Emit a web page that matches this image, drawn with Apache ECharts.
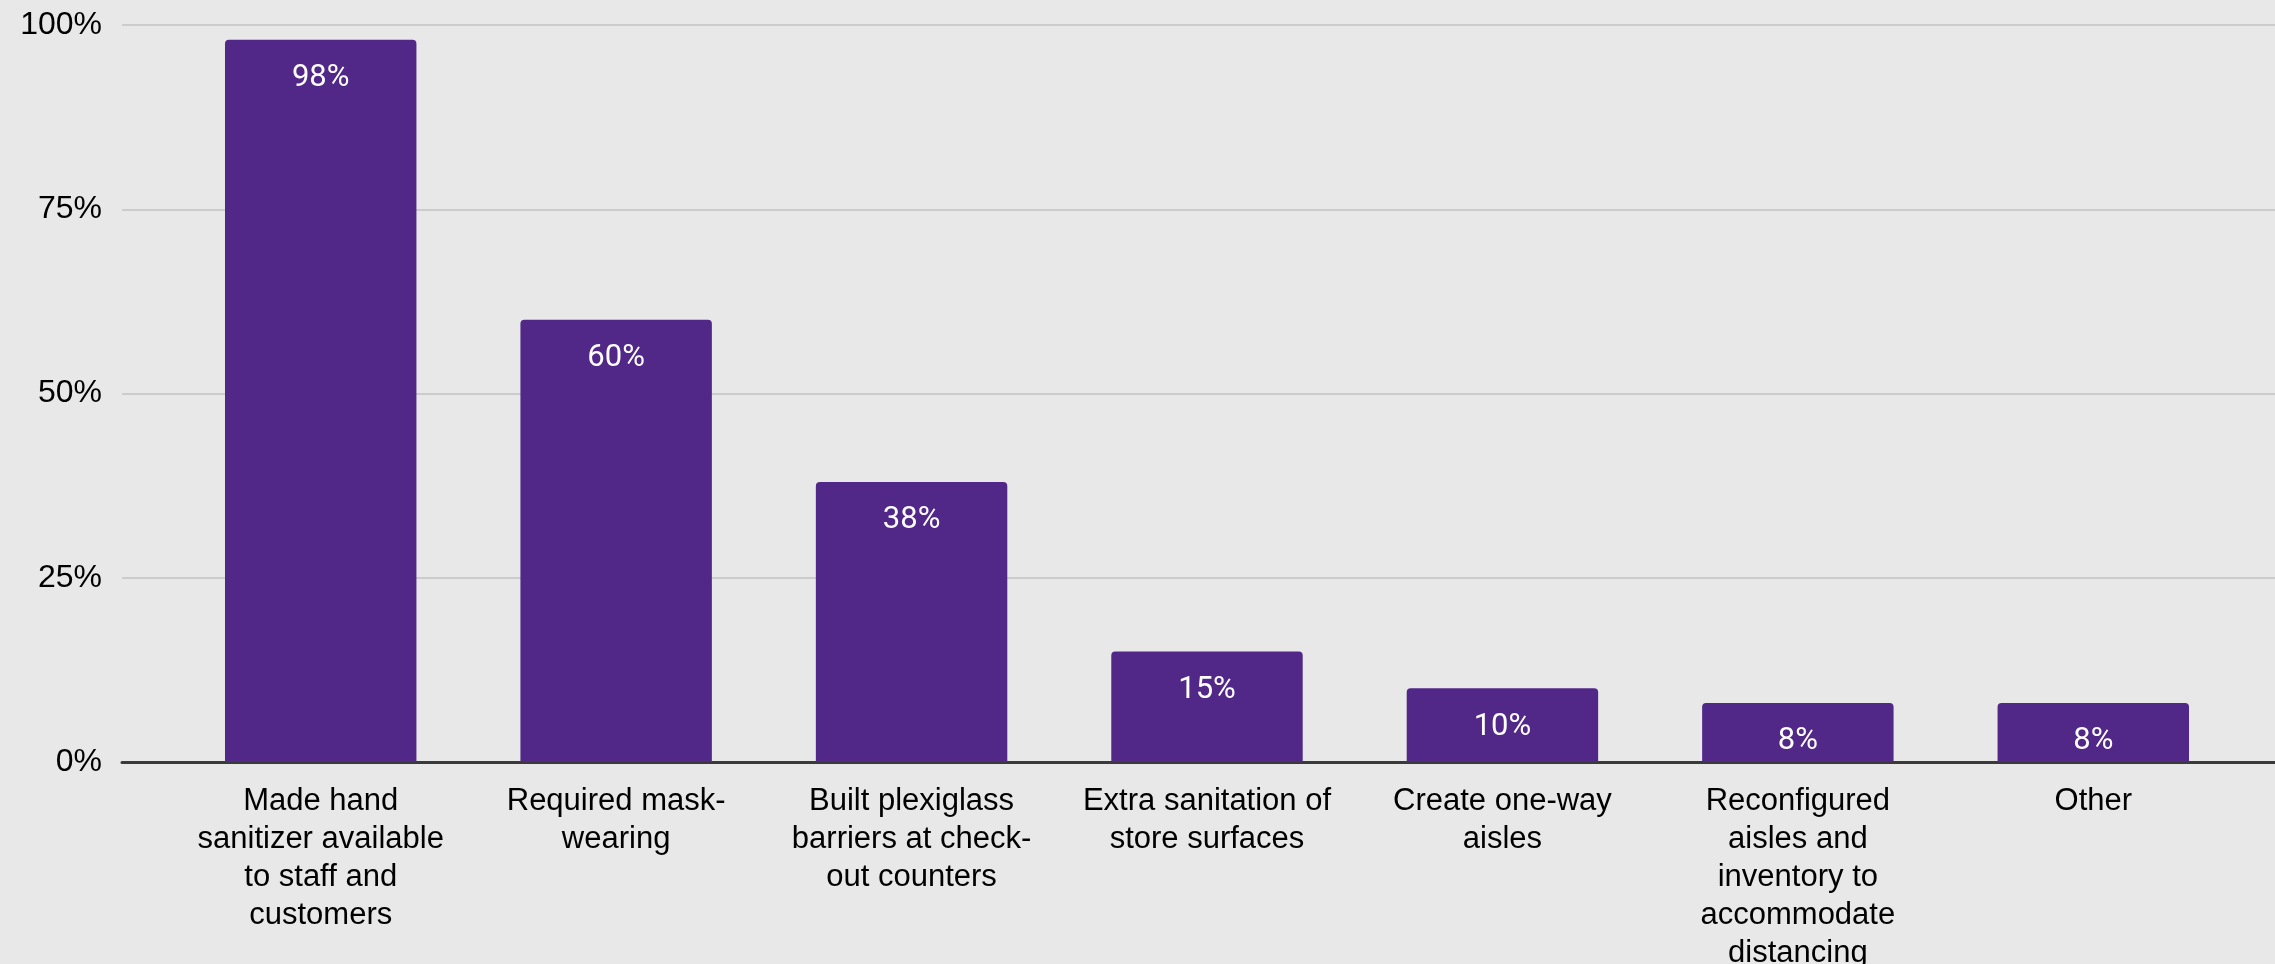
<!DOCTYPE html>
<html>
<head>
<meta charset="utf-8">
<script src="https://cdn.jsdelivr.net/npm/echarts@6/dist/echarts.min.js"></script>
<style>
html,body{margin:0;padding:0;background:#e8e8e8;}
#chart{width:2275px;height:964px;}
</style>
</head>
<body>
<div id="chart"></div>
<script>
const categories = [
  "Made hand\nsanitizer available\nto staff and\ncustomers",
  "Required mask-\nwearing",
  "Built plexiglass\nbarriers at check-\nout counters",
  "Extra sanitation of\nstore surfaces",
  "Create one-way\naisles",
  "Reconfigured\naisles and\ninventory to\naccommodate\ndistancing",
  "Other"
];
const values = [98, 60, 38, 15, 10, 8, 8];
const yMin = 0, yMax = 100, yStep = 25;

const chart = echarts.init(document.getElementById('chart'), null, {renderer: 'canvas'});
chart.setOption({
  backgroundColor: '#e8e8e8',
  animation: false,
  grid: [
    {left: 122, right: 0, top: 25, bottom: 202, containLabel: false, outerBoundsMode: 'none'},
    {left: 173, right: 34, top: 25, bottom: 202, containLabel: false, outerBoundsMode: 'none'}
  ],
  xAxis: [
    {
      gridIndex: 0, type: 'value', min: 0, max: 1,
      axisLine: {show: true, lineStyle: {color: '#3a3a3a', width: 3}},
      axisTick: {show: false}, axisLabel: {show: false}, splitLine: {show: false}
    },
    {
      gridIndex: 1, type: 'category', data: categories,
      axisLine: {show: false}, axisTick: {show: false},
      axisLabel: {
        interval: 0, color: '#000', fontFamily: 'Liberation Sans, Arial, sans-serif',
        fontSize: 31, lineHeight: 38, margin: 20
      }
    }
  ],
  yAxis: [
    {
      gridIndex: 0, type: 'value', min: yMin, max: yMax, interval: yStep,
      axisLine: {show: false}, axisTick: {show: false},
      axisLabel: {formatter: '{value}%', color: '#000', fontFamily: 'Liberation Sans, Arial, sans-serif', fontSize: 32, margin: 20},
      splitLine: {lineStyle: {color: '#cccccc', width: 2}}
    },
    {
      gridIndex: 1, type: 'value', min: yMin, max: yMax, interval: yStep, show: false
    }
  ],
  series: [{
    type: 'bar',
    xAxisIndex: 1, yAxisIndex: 1,
    data: values,
    barWidth: '64.8%',
    itemStyle: {color: '#512888', borderRadius: [4, 4, 0, 0]},
    label: {
      show: true, position: 'insideTop', distance: 23,
      formatter: '{c}%', color: '#ffffff', fontFamily: 'Roboto, sans-serif', fontSize: 31
    }
  }]
});
</script>
</body>
</html>
